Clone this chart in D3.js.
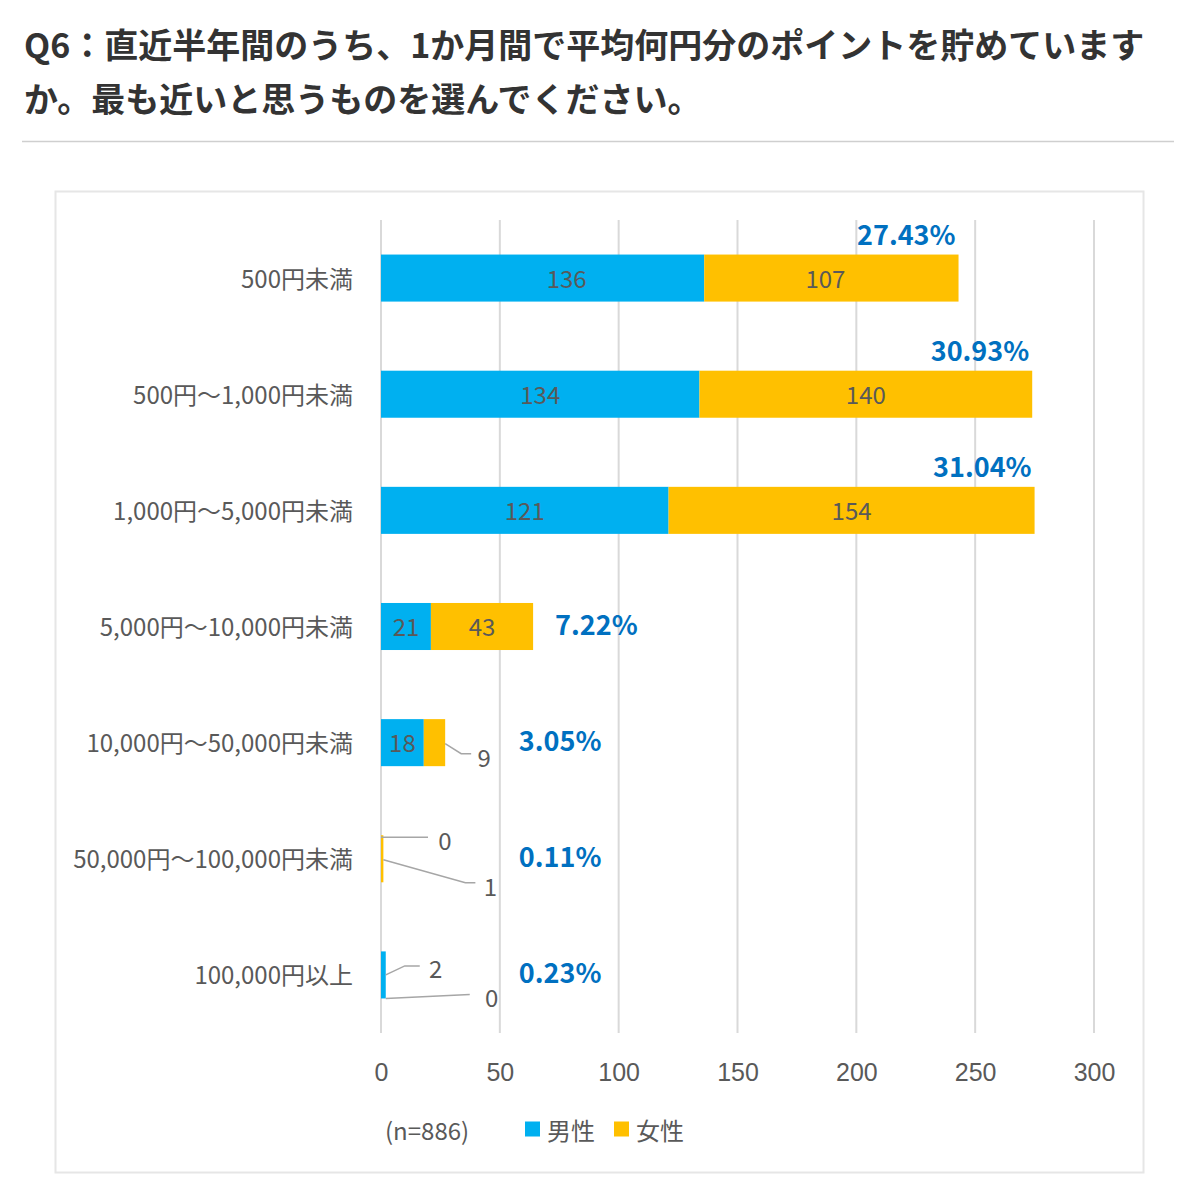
<!DOCTYPE html>
<html>
<head>
<meta charset="utf-8">
<script src="https://cdn.jsdelivr.net/npm/d3@7"></script>
<style>
  body { margin: 0; background: #fff; }
  svg { display: block; font-family: "Noto Sans CJK JP", "Noto Sans", sans-serif; }
</style>
</head>
<body>
<svg id="chart"></svg>
<script>
  // DATA
  const categories = [
    "500円未満",
    "500円～1,000円未満",
    "1,000円～5,000円未満",
    "5,000円～10,000円未満",
    "10,000円～50,000円未満",
    "50,000円～100,000円未満",
    "100,000円以上",
  ];
  const male = [136, 134, 121, 21, 18, 0, 2];
  const female = [107, 140, 154, 43, 9, 1, 0];
  const shares = ["27.43%", "30.93%", "31.04%", "7.22%", "3.05%", "0.11%", "0.23%"];
  const seriesNames = ["男性", "女性"];
  const xTicks = [0, 50, 100, 150, 200, 250, 300];
  const sampleNote = "(n=886)";
  const titleLines = [
    "Q6：直近半年間のうち、1か月間で平均何円分のポイントを貯めています",
    "か。最も近いと思うものを選んでください。",
  ];

  // leader lines for the tiny segments (layout only)
  const leaders = [
    { row: 4, series: 1, at: "mid", pts: [[0, 1], [16, 11], [26, 11]], label: [39, 14] },
    { row: 5, series: 0, at: "top", pts: [[0, 2], [47, 2]], label: [64, 4] },
    { row: 5, series: 1, at: "mid", pts: [[0, 1], [82, 24], [92, 24]], label: [107, 27] },
    { row: 6, series: 0, at: "mid", pts: [[0, 0], [19, -9], [34, -9]], label: [50, -7] },
    { row: 6, series: 1, at: "bottom", pts: [[0, 0], [84, -4]], label: [106, -2] },
  ];
  // hand-moved labels in the first row (layout only)
  const labelNudge = { "0-0": 24, "1-0": -6 };

  const COLORS = ["#00b0f0", "#ffc000"];
  const TEXT = "#595959";

  const dims = { width: 1200, height: 1189 };
  const plot = { left: 381, right: 1094, top: 220, bottom: 1033 };

  const svg = d3.select("#chart")
    .attr("width", dims.width)
    .attr("height", dims.height);

  // TITLE
  svg.append("g")
    .selectAll("text")
    .data(titleLines)
    .join("text")
    .attr("x", 24)
    .attr("y", (d, i) => 58 + i * 54)
    .attr("font-size", 34)
    .attr("font-weight", "bold")
    .attr("fill", "#333")
    .text((d) => d);

  svg.append("line")
    .attr("x1", 22).attr("x2", 1174)
    .attr("y1", 141.5).attr("y2", 141.5)
    .attr("stroke", "#cfcfcf")
    .attr("stroke-width", 1.5);

  // CARD
  svg.append("rect")
    .attr("x", 55.5).attr("y", 191.5)
    .attr("width", 1088).attr("height", 981)
    .attr("fill", "#fff")
    .attr("stroke", "#e6e6e6")
    .attr("stroke-width", 2);

  // SCALES
  const x = d3.scaleLinear().domain([0, 300]).range([plot.left, plot.right]);
  const y = d3.scaleBand()
    .domain(categories)
    .range([plot.top, plot.bottom])
    .paddingInner(0.595)
    .paddingOuter(0.2975);

  // GRID
  svg.append("g")
    .selectAll("line")
    .data(xTicks)
    .join("line")
    .attr("x1", (d) => x(d)).attr("x2", (d) => x(d))
    .attr("y1", plot.top).attr("y2", plot.bottom)
    .attr("stroke", "#d9d9d9")
    .attr("stroke-width", 2);

  // AXIS
  const axis = svg.append("g")
    .attr("transform", `translate(0,${plot.bottom + 30})`)
    .call(d3.axisBottom(x).tickValues(xTicks).tickSize(0).tickPadding(0));
  axis.select(".domain").remove();
  axis.selectAll("text")
    .attr("font-family", null)
    .attr("font-size", 25)
    .attr("fill", TEXT)
    .attr("dy", "0.71em");

  // CATEGORY LABELS
  svg.append("g")
    .selectAll("text")
    .data(categories)
    .join("text")
    .attr("x", 353)
    .attr("y", (d) => y(d) + y.bandwidth() / 2 - 1)
    .attr("text-anchor", "end")
    .attr("dominant-baseline", "central")
    .attr("font-size", 24)
    .attr("fill", TEXT)
    .text((d) => d);

  // STACKED BARS
  const rows = categories.map((c, i) => ({ cat: c, male: male[i], female: female[i] }));
  const stack = d3.stack().keys(["male", "female"])(rows);

  const layers = svg.append("g")
    .selectAll("g")
    .data(stack)
    .join("g")
    .attr("fill", (d, i) => COLORS[i]);

  layers.selectAll("rect")
    .data((d) => d)
    .join("rect")
    .attr("x", (d) => x(d[0]))
    .attr("y", (d) => y(d.data.cat))
    .attr("width", (d) => x(d[1]) - x(d[0]))
    .attr("height", y.bandwidth());

  // VALUE LABELS INSIDE
  layers.each(function (layer, si) {
    d3.select(this).selectAll("text")
      .data(layer.map((s, ri) => ({ s, key: `${si}-${ri}` })).filter((d) => d.s[1] - d.s[0] > 10))
      .join("text")
      .attr("x", (d) => (x(d.s[0]) + x(d.s[1])) / 2 + (labelNudge[d.key] || 0))
      .attr("y", (d) => y(d.s.data.cat) + y.bandwidth() / 2 - 1)
      .attr("text-anchor", "middle")
      .attr("dominant-baseline", "central")
      .attr("font-size", 24)
      .attr("fill", TEXT)
      .text((d) => d.s[1] - d.s[0]);
  });

  // LEADER LABELS
  const leaderG = svg.append("g");
  leaders.forEach((l) => {
    const seg = stack[l.series][l.row];
    const top = y(seg.data.cat);
    const ax = x(seg[1]);
    const ay = l.at === "top" ? top : l.at === "bottom" ? top + y.bandwidth() : top + y.bandwidth() / 2;
    leaderG.append("path")
      .attr("d", d3.line()(l.pts.map(([dx, dy]) => [ax + dx, ay + dy])))
      .attr("fill", "none")
      .attr("stroke", "#a6a6a6")
      .attr("stroke-width", 1.5);
    leaderG.append("text")
      .attr("x", ax + l.label[0])
      .attr("y", ay + l.label[1])
      .attr("text-anchor", "middle")
      .attr("dominant-baseline", "central")
      .attr("font-size", 24)
      .attr("fill", TEXT)
      .text(seg[1] - seg[0]);
  });

  // SHARE LABELS
  const totals = categories.map((c, i) => male[i] + female[i]);
  svg.append("g")
    .selectAll("text")
    .data(shares)
    .join("text")
    .attr("x", (d, i) => totals[i] > 200 ? x(totals[i]) - 3 : Math.max(x(totals[i]) + 22, x(58)))
    .attr("y", (d, i) => totals[i] > 200 ? y(categories[i]) - 10 : y(categories[i]) + y.bandwidth() / 2 - 3)
    .attr("text-anchor", (d, i) => totals[i] > 200 ? "end" : "start")
    .attr("dominant-baseline", (d, i) => totals[i] > 200 ? "auto" : "central")
    .attr("font-size", 27)
    .attr("font-weight", "bold")
    .attr("fill", "#0070c0")
    .text((d) => d);

  // LEGEND
  const legend = svg.append("g").attr("transform", "translate(0,1129)");
  legend.append("text")
    .attr("x", 385)
    .attr("dominant-baseline", "central")
    .attr("font-size", 24)
    .attr("fill", TEXT)
    .text(sampleNote);
  const items = legend.selectAll("g.item")
    .data(seriesNames)
    .join("g")
    .attr("class", "item")
    .attr("transform", (d, i) => `translate(${525 + i * 89},0)`);
  items.append("rect")
    .attr("y", -7.5)
    .attr("width", 15).attr("height", 15)
    .attr("fill", (d, i) => COLORS[i]);
  items.append("text")
    .attr("x", 22)
    .attr("dominant-baseline", "central")
    .attr("font-size", 24)
    .attr("fill", TEXT)
    .text((d) => d);
</script>
</body>
</html>
